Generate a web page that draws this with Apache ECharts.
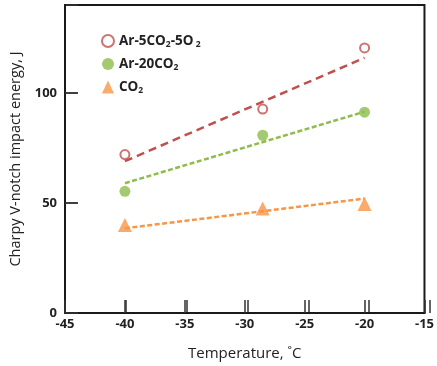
<!DOCTYPE html>
<html>
<head>
<meta charset="utf-8">
<script src="https://cdn.jsdelivr.net/npm/echarts@6/dist/echarts.min.js"></script>
</head>
<body style="margin:0">
<div id="chart" style="width:437px;height:366px"></div>
<script>
//温度 (x)
var temps = [-40, -28.5, -20];
//各气体的冲击功测量值
var arCo2O2 = [72, 92.7, 120.5];
var ar20Co2 = [55.3, 80.8, 91.3];
var co2 = [40, 47.5, 49.5];
//趋势线两端
var trendX = [-40, -20];
var trendArCo2O2 = [69, 116];
var trendAr20Co2 = [59, 91.5];
var trendCo2 = [38.5, 52];

var names = ['Ar-5CO2-5O2', 'Ar-20CO2', 'CO2'];
var legendRich = {
	'Ar-5CO2-5O2': '{n|Ar-5CO}{s|2}{n|-5O}{s| 2}',
	'Ar-20CO2': '{n|Ar-20CO}{s|2}',
	'CO2': '{n|CO}{s|2}'
};

var pairs = function(xs, ys) {
	var out = [];
	for(var i = 0; i < xs.length; i++) {
		out.push([xs[i], ys[i]]);
	}
	return out;
};

var red = '#c0504d';
var green = '#8fbc4a';
var orange = '#f79646';
var tickLine = {
	color: '#333',
	width: 1.5
};

var trendSeries = function(ys, color, dash) {
	return {
		type: 'line',
		data: pairs(trendX, ys),
		symbol: 'none',
		silent: true,
		z: 1,
		lineStyle: {
			color: color,
			width: 2.5,
			type: dash
		}
	};
};

//刻度条: 用窄网格的分隔线画出内侧刻度
var hiddenAxis = function(gridIndex) {
	return {
		type: 'value',
		gridIndex: gridIndex,
		min: 0,
		max: 1,
		show: false
	};
};

var chart = echarts.init(document.getElementById('chart'));
chart.setOption({
	animation: false,
	textStyle: {
		fontFamily: 'Open Sans'
	},
	grid: [{
		left: 65,
		right: 7,
		top: 5,
		bottom: 53,
		show: true,
		borderColor: '#1a1a1a',
		borderWidth: 2
	}, {
		left: 65,
		right: 7,
		bottom: 53,
		height: 13
	}, {
		left: 65,
		top: 5,
		bottom: 53,
		width: 13
	}],
	legend: {
		orient: 'vertical',
		left: 96,
		top: 29,
		itemGap: 8,
		itemWidth: 12,
		itemHeight: 13,
		data: names,
		formatter: function(name) {
			return legendRich[name];
		},
		textStyle: {
			rich: {
				n: {
					fontSize: 13.5,
					fontWeight: 'bold',
					color: '#222'
				},
				s: {
					fontSize: 8.5,
					fontWeight: 'bold',
					color: '#222',
					padding: [7, 0, 0, 0]
				}
			}
		}
	},
	xAxis: [{
		type: 'value',
		gridIndex: 0,
		min: -45,
		max: -15,
		interval: 5,
		name: 'Temperature, \u02daC',
		nameLocation: 'middle',
		nameGap: 33,
		nameTextStyle: {
			fontSize: 15,
			color: '#222'
		},
		axisLine: {
			lineStyle: {
				color: '#1a1a1a',
				width: 2
			}
		},
		axisTick: {
			show: true,
			inside: true,
			length: 13,
			lineStyle: tickLine
		},
		axisLabel: {
			color: '#222',
			fontSize: 13,
			fontWeight: 'bold',
			margin: 5
		},
		splitLine: {
			show: false
		}
	}, {
		type: 'value',
		gridIndex: 1,
		min: -45,
		max: -15,
		interval: 5,
		axisLine: {
			show: false
		},
		axisTick: {
			show: false
		},
		axisLabel: {
			show: false
		},
		splitLine: {
			show: true,
			lineStyle: tickLine
		}
	}, hiddenAxis(2)],
	yAxis: [{
		type: 'value',
		gridIndex: 0,
		min: 0,
		max: 140,
		interval: 50,
		name: 'Charpy V-notch impact energy, J',
		nameLocation: 'middle',
		nameGap: 39,
		nameTextStyle: {
			fontSize: 14.5,
			color: '#222'
		},
		axisLine: {
			show: true,
			lineStyle: {
				color: '#1a1a1a',
				width: 2
			}
		},
		axisTick: {
			show: true,
			inside: true,
			length: 13,
			lineStyle: tickLine
		},
		axisLabel: {
			color: '#222',
			fontSize: 13,
			fontWeight: 'bold',
			margin: 8,
			showMaxLabel: false
		},
		splitLine: {
			show: false
		}
	}, hiddenAxis(1), {
		type: 'value',
		gridIndex: 2,
		min: 0,
		max: 140,
		interval: 50,
		axisLine: {
			show: false
		},
		axisTick: {
			show: false
		},
		axisLabel: {
			show: false
		},
		splitLine: {
			show: true,
			lineStyle: tickLine
		}
	}],
	series: [
		trendSeries(trendArCo2O2, red, [8, 5]),
		trendSeries(trendAr20Co2, green, [5, 2.5]),
		trendSeries(trendCo2, orange, [5, 2.5]),
		{
			name: names[0],
			type: 'scatter',
			data: pairs(temps, arCo2O2),
			symbol: 'emptyCircle',
			symbolSize: 9,
			z: 3,
			itemStyle: {
				color: red,
				borderColor: red,
				borderWidth: 2
			}
		},
		{
			name: names[1],
			type: 'scatter',
			data: pairs(temps, ar20Co2),
			symbol: 'circle',
			symbolSize: 11,
			z: 3,
			itemStyle: {
				color: green
			}
		},
		{
			name: names[2],
			type: 'scatter',
			data: pairs(temps, co2),
			symbol: 'triangle',
			symbolSize: 14,
			z: 3,
			itemStyle: {
				color: orange
			}
		}
	]
});
</script>
</body>
</html>
